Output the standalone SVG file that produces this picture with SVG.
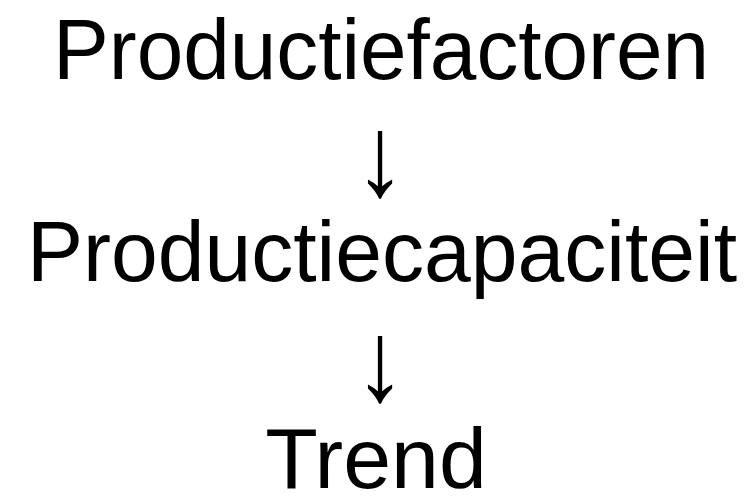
<svg xmlns="http://www.w3.org/2000/svg" width="748" height="497" viewBox="0 0 748 497">
<style>
.t{font-family:"Liberation Sans",Arial,sans-serif;font-size:86px;fill:#000;text-anchor:middle}
</style>
<rect width="748" height="497" fill="#fff"/>
<g id="productiefactoren"><text class="t" x="381" y="79" textLength="656" lengthAdjust="spacingAndGlyphs">Productiefactoren</text></g>
<g id="productiecapaciteit"><text class="t" x="382" y="281" textLength="710" lengthAdjust="spacingAndGlyphs">Productiecapaciteit</text></g>
<g id="trend"><text class="t" x="376" y="488">Trend</text></g>
<g id="connectors">
<text class="t" transform="translate(380 195) scale(1.2 1.33)" x="0" y="0">↓</text>
<text class="t" transform="translate(380 400) scale(1.2 1.33)" x="0" y="0">↓</text>
</g>
</svg>
